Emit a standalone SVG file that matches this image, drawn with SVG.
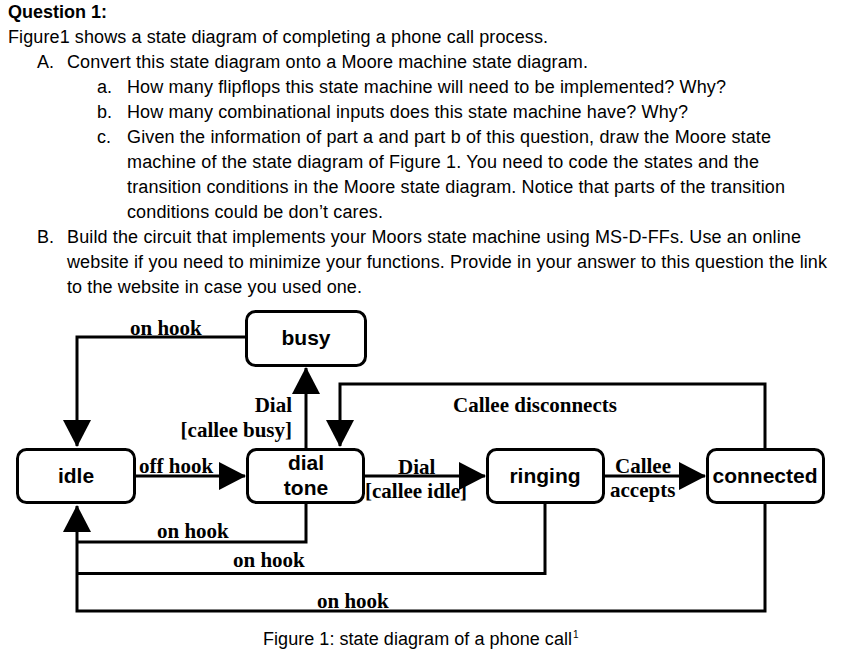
<svg xmlns="http://www.w3.org/2000/svg" width="851" height="655" viewBox="0 0 851 655">
<style>
.t{font-family:"Liberation Sans",Arial,sans-serif;font-size:18px;fill:#000}
.q{font-family:"Liberation Sans",Arial,sans-serif;font-size:18px;font-weight:bold;fill:#000}
.n{font-family:"Liberation Sans",Arial,sans-serif;font-size:21px;font-weight:bold;fill:#000;text-anchor:middle}
.e{font-family:"Liberation Serif","Times New Roman",serif;font-size:21px;font-weight:bold;fill:#000}
.box{fill:#fff;stroke:#000;stroke-width:3}
.c{fill:none;stroke:#000;stroke-width:3}
</style>
<defs>
<marker id="ah" markerUnits="userSpaceOnUse" markerWidth="27" markerHeight="28" refX="26" refY="14" orient="auto">
<path d="M0,0 L27,14 L0,28 z" fill="#000"/>
</marker>
</defs>
<rect width="851" height="655" fill="#fff"/>
<g id="question">
<text class="q" x="8" y="18">Question 1:</text>
<text class="t" x="8" y="43" textLength="540" lengthAdjust="spacing">Figure1 shows a state diagram of completing a phone call process.</text>
<text class="t" x="37" y="68">A.</text>
<text class="t" x="67" y="68" textLength="521" lengthAdjust="spacing">Convert this state diagram onto a Moore machine state diagram.</text>
<text class="t" x="97" y="93">a.</text>
<text class="t" x="127" y="93" textLength="599" lengthAdjust="spacing">How many flipflops this state machine will need to be implemented? Why?</text>
<text class="t" x="97" y="118">b.</text>
<text class="t" x="127" y="118" textLength="561" lengthAdjust="spacing">How many combinational inputs does this state machine have? Why?</text>
<text class="t" x="97" y="143">c.</text>
<text class="t" x="127" y="143" textLength="644" lengthAdjust="spacing">Given the information of part a and part b of this question, draw the Moore state</text>
<text class="t" x="127" y="168" textLength="632" lengthAdjust="spacing">machine of the state diagram of Figure 1. You need to code the states and the</text>
<text class="t" x="127" y="193" textLength="658" lengthAdjust="spacing">transition conditions in the Moore state diagram. Notice that parts of the transition</text>
<text class="t" x="127" y="218" textLength="256" lengthAdjust="spacing">conditions could be don’t cares.</text>
<text class="t" x="37" y="243">B.</text>
<text class="t" x="67" y="243" textLength="734" lengthAdjust="spacing">Build the circuit that implements your Moors state machine using MS-D-FFs. Use an online</text>
<text class="t" x="67" y="268" textLength="760" lengthAdjust="spacing">website if you need to minimize your functions. Provide in your answer to this question the link</text>
<text class="t" x="67" y="293" textLength="295" lengthAdjust="spacing">to the website in case you used one.</text>
</g>
<g id="connectors">
<path class="c" d="M246,337 H77 V446" marker-end="url(#ah)"/>
<path class="c" d="M306,448 V368" marker-end="url(#ah)"/>
<path class="c" d="M765,448 V384 H340 V446" marker-end="url(#ah)"/>
<path class="c" d="M136,476 H245" marker-end="url(#ah)"/>
<path class="c" d="M365,476 H485" marker-end="url(#ah)"/>
<path class="c" d="M605,476 H705" marker-end="url(#ah)"/>
<path class="c" d="M306,504 V542 H77"/>
<path class="c" d="M545,504 V573.5 H77"/>
<path class="c" d="M765,504 V611 H77 V506" marker-end="url(#ah)"/>
<text class="e" x="130" y="335">on hook</text>
<text class="e" x="292" y="412" text-anchor="end">Dial</text>
<text class="e" x="292" y="437" text-anchor="end">[callee busy]</text>
<text class="e" x="453" y="412">Callee disconnects</text>
<text class="e" x="139" y="473">off hook</text>
<text class="e" x="398" y="474">Dial</text>
<text class="e" x="365" y="498">[callee idle]</text>
<text class="e" x="615" y="473">Callee</text>
<text class="e" x="610" y="497">accepts</text>
<text class="e" x="157" y="538">on hook</text>
<text class="e" x="233" y="567">on hook</text>
<text class="e" x="317" y="608">on hook</text>
</g>
<g id="busy">
<rect class="box" x="246.5" y="311.5" width="119" height="54" rx="9"/>
<text class="n" x="306" y="345">busy</text>
</g>
<g id="idle">
<rect class="box" x="17.5" y="449.5" width="117" height="53" rx="9"/>
<text class="n" x="76" y="483">idle</text>
</g>
<g id="dialtone">
<rect class="box" x="247.5" y="449.5" width="116" height="53" rx="9"/>
<text class="n" x="306" y="470">dial</text>
<text class="n" x="306" y="495">tone</text>
</g>
<g id="ringing">
<rect class="box" x="487.5" y="449.5" width="116" height="53" rx="9"/>
<text class="n" x="545" y="483">ringing</text>
</g>
<g id="connected">
<rect class="box" x="707.5" y="449.5" width="116" height="53" rx="9"/>
<text class="n" x="765" y="483">connected</text>
</g>
<g id="caption">
<text class="t" x="263" y="645" textLength="309" lengthAdjust="spacing">Figure 1: state diagram of a phone call</text>
<text class="t" x="573" y="638" style="font-size:10px">1</text>
</g>
</svg>
